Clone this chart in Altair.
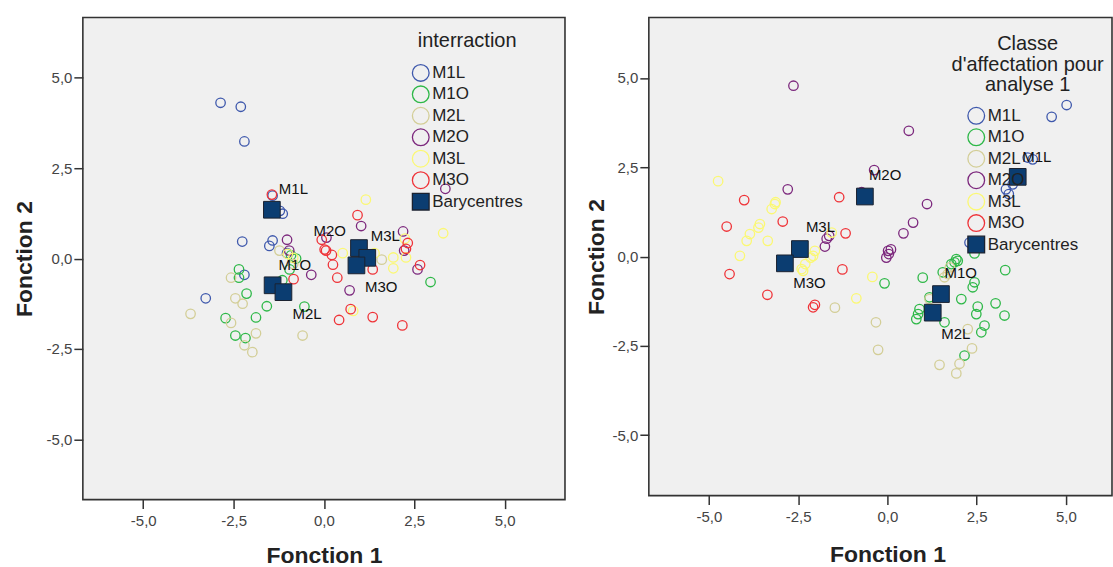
import altair as alt
import pandas as pd

CATS = ["M1L", "M1O", "M2L", "M2O", "M3L", "M3O"]
BARY = "Barycentres"
TICKS = [-5, -2.5, 0, 2.5, 5]

# ---- left panel: "interraction" (observed groups) ----
L_M1L = [(-2.86, 4.31), (-2.30, 4.20), (-2.20, 3.24), (-1.42, 1.74), (-1.14, 1.24), (-1.22, 1.32),
         (-2.26, 0.47), (-1.51, 0.35), (-1.42, 0.50), (-2.20, -0.45), (-3.27, -1.10), (-1.02, 0.15)]
L_M1O = [(-2.35, -0.30), (-2.35, -0.53), (-2.14, -0.97), (-2.72, -1.65), (-2.45, -2.13), (-2.17, -2.20),
         (-1.88, -1.63), (-1.58, -1.32), (-0.54, -1.33), (2.95, -0.65), (-0.91, 0.09), (-0.77, 0.00),
         (-1.15, -0.60), (-0.95, -0.30)]
L_M2L = [(-3.69, -1.53), (-2.57, -1.78), (-2.20, -2.40), (-1.98, -2.59), (-1.88, -2.07), (-2.45, -1.10),
         (-2.25, -1.25), (-2.57, -0.53), (-0.59, -2.13), (-1.23, 0.22), (1.60, -0.03), (-0.85, -0.15)]
L_M2O = [(-1.02, 0.52), (-0.96, 0.22), (-0.35, -0.45), (0.71, -0.88), (0.07, 0.58), (1.03, 0.90),
         (2.19, 0.75), (2.22, 0.22), (2.59, -0.30), (3.36, 1.93)]
L_M3L = [(1.16, 1.63), (3.30, 0.70), (0.52, 0.15), (0.81, -1.45), (1.92, -0.27), (1.92, 0.03),
         (2.27, 0.03), (2.24, 0.55), (-1.00, 0.13), (1.40, 0.15), (-0.85, 0.02)]
L_M3O = [(-1.44, 1.77), (-0.84, -0.57), (0.37, -0.53), (0.25, -0.17), (0.22, 0.10), (0.02, 0.25),
         (-0.06, 0.52), (0.06, 0.22), (0.93, 1.20), (0.74, -1.40), (0.42, -1.70), (1.35, -1.62),
         (2.17, -1.85), (2.32, 0.43), (2.27, 0.27), (2.66, -0.18), (1.35, -0.30)]
L_BARY_X = [-1.44, -1.42, -1.12, 0.97, 1.20, 0.90]
L_BARY_Y = [1.35, -0.74, -0.93, 0.29, 0.02, -0.19]

# ---- right panel: "Classe d'affectation pour analyse 1" (predicted groups) ----
R_M1L = [(5.02, 4.24), (4.60, 3.91), (4.07, 2.72), (3.93, 2.77), (3.51, 2.02), (3.32, 1.88),
         (3.40, 1.75), (2.30, 0.39)]
R_M1O = [(-0.08, -0.75), (0.99, -0.59), (1.93, -0.07), (1.88, -0.16), (1.97, -0.12), (1.79, -0.21),
         (2.44, 0.09), (3.30, -0.38), (1.55, -0.44), (2.44, -0.72), (2.39, -0.86), (2.07, -1.19),
         (2.53, -1.40), (2.49, -1.61), (3.03, -1.31), (3.28, -1.65), (0.86, -1.61), (0.81, -1.75),
         (1.60, -1.84), (2.72, -1.93), (2.63, -2.12), (2.16, -2.77), (1.18, -1.14), (0.90, -1.47)]
R_M2L = [(-1.47, -1.43), (-0.32, -1.84), (-0.26, -2.61), (1.60, -0.58), (1.69, -0.49), (1.18, -1.19),
         (2.25, -2.03), (2.37, -2.57), (2.02, -3.00), (1.93, -3.27), (1.46, -3.03), (1.75, -0.30)]
R_M2O = [(-2.63, 4.78), (0.60, 3.52), (-2.79, 1.88), (1.11, 1.47), (0.72, 0.95), (0.45, 0.65),
         (0.02, 0.16), (-0.03, -0.03), (0.04, 0.07), (0.10, 0.20), (-1.70, 0.50), (-1.75, 0.28),
         (-1.63, 0.58), (-0.37, 2.42), (-0.72, 1.80)]
R_M3L = [(-4.74, 2.11), (-3.15, 1.47), (-3.24, 1.33), (-3.13, 1.52), (-3.57, 0.91), (-3.61, 0.81),
         (-3.85, 0.63), (-3.94, 0.44), (-3.35, 0.44), (-4.13, 0.02), (-1.56, 0.67), (-2.03, 0.16),
         (-2.15, -0.03), (-2.30, -0.21), (-2.40, -0.35), (-2.08, 0.02), (-2.36, -0.40), (-0.42, -0.57),
         (-0.87, -1.17)]
R_M3O = [(-4.01, 1.58), (-2.93, 0.98), (-1.35, 1.66), (-4.50, 0.84), (-4.42, -0.49), (-1.17, 0.65),
         (-1.26, -0.36), (-3.36, -1.07), (-2.08, -1.42), (-2.03, -1.35)]
R_BARY_X = [3.65, 1.50, 1.27, -0.63, -2.45, -2.87]
R_BARY_Y = [2.23, -1.05, -1.57, 1.68, 0.21, -0.19]

# ---- styles ----
FONT = "Liberation Sans"
COLORS = ["#3e58ac", "#2eb848", "#d3ce97", "#7c287d", "#fbf873", "#ef3338"]
B_FILL = "#0b3d71"
B_STROKE = "#1b2230"
LEXPR = "replace(replace(format(datum.value, '.1f'), '.', ','), '\u2212', '-')"
DOM = CATS + [BARY]

# label offsets (dx, dy, align) for barycentre labels
L_LAB = {"M1L": (7, -21, "left"), "M1O": (6, -20, "left"), "M2L": (9, 21.5, "left"),
         "M2O": (-13, -17.5, "right"), "M3L": (3.5, -21.5, "left"), "M3O": (8.5, 21.5, "left")}
R_LAB = {"M1L": (4.5, -20, "left"), "M1O": (3.5, -21, "left"), "M2L": (8.5, 21.3, "left"),
         "M2O": (4, -21.4, "left"), "M3L": (6, -21.6, "left"), "M3O": (8.3, 20, "left")}


def build_df(groups, bx, by):
    rows = []
    for g, pts in zip(CATS, groups):
        for x, y in pts:
            rows.append({"g": g, "x": x, "y": y, "lab": "", "b": 0})
    for g, x, y in zip(CATS, bx, by):
        rows.append({"g": BARY, "x": x, "y": y, "lab": g, "b": 1})
    return pd.DataFrame(rows)


def panel(df, title, xdom, ydom, width, height, legend_kw, labs, ytitle_x, xtitle_y, xtitle_x=None):
    xaxis_kw = dict(title="Fonction 1", values=TICKS, labelExpr=LEXPR, titleY=xtitle_y,
                    titleBaseline="alphabetic")
    if xtitle_x is not None:
        xaxis_kw["titleX"] = xtitle_x
    xenc = alt.X("x:Q", scale=alt.Scale(domain=xdom, nice=False, zero=False),
                 axis=alt.Axis(**xaxis_kw))
    yenc = alt.Y("y:Q", scale=alt.Scale(domain=ydom, nice=False, zero=False),
                 axis=alt.Axis(title="Fonction 2", values=TICKS, labelExpr=LEXPR, titleX=ytitle_x,
                               titleBaseline="alphabetic", titleAngle=270))
    leg = alt.Legend(title=title, orient="none", **legend_kw)
    stroke = alt.Stroke("g:N", scale=alt.Scale(domain=DOM, range=COLORS + [B_STROKE]), legend=leg)
    fill = alt.Fill("g:N", scale=alt.Scale(domain=DOM, range=["transparent"] * 6 + [B_FILL]), legend=leg)
    shape = alt.Shape("g:N", scale=alt.Scale(domain=DOM, range=["circle"] * 6 + ["square"]), legend=leg)
    base = alt.Chart(df)
    circles = base.transform_filter(alt.datum.b == 0).mark_point(
        opacity=1, size=90, strokeWidth=1.3
    ).encode(x=xenc, y=yenc, stroke=stroke, fill=fill, shape=shape)
    squares = base.transform_filter(alt.datum.b == 1).mark_point(
        opacity=1, size=280, strokeWidth=1
    ).encode(x="x:Q", y="y:Q", stroke=stroke, fill=fill, shape=shape)
    layers = [circles, squares]
    for g, (dx, dy, al) in labs.items():
        layers.append(
            base.transform_filter(alt.datum.lab == g)
            .mark_text(dx=dx, dy=dy, align=al, baseline="middle", font=FONT, fontSize=15,
                       color="#111111")
            .encode(x="x:Q", y="y:Q", text="lab:N")
        )
    return alt.layer(*layers).properties(width=width, height=height)


left = panel(build_df([L_M1L, L_M1O, L_M2L, L_M2O, L_M3L, L_M3O], L_BARY_X, L_BARY_Y),
             "interraction", [-6.67, 6.67], [-6.67, 6.67], 483, 483,
             dict(legendX=329, legendY=14, titlePadding=12),
             L_LAB, ytitle_x=-51, xtitle_y=63)

right = panel(build_df([R_M1L, R_M1O, R_M2L, R_M2O, R_M3L, R_M3O], R_BARY_X, R_BARY_Y),
              ["Classe", "d'affectation pour", "analyse 1"], [-6.68, 6.29], [-6.69, 6.69], 464, 479,
              dict(legendX=303.5, legendY=17, titlePadding=11, symbolOffset=-11, titleLineHeight=20.5),
              R_LAB, ytitle_x=-45, xtitle_y=66, xtitle_x=239)

chart = (
    alt.hconcat(left, right, spacing=84, bounds="flush")
    .resolve_scale(x="independent", y="independent", stroke="independent", fill="independent",
                   shape="independent")
    .resolve_legend(stroke="independent", fill="independent", shape="independent")
    .resolve_axis(x="independent", y="independent")
    .properties(padding={"left": 13, "top": 16, "right": 0, "bottom": 0}, background="white")
    .configure_view(fill="#f0f0f0", stroke="#333333", strokeWidth=1.6)
    .configure_axis(grid=False, domain=False, tickSize=9, tickWidth=1.5, tickColor="#333333",
                    labelFont=FONT, labelFontSize=15, labelColor="#444444", labelPadding=2,
                    titleFont=FONT, titleFontSize=23, titleFontWeight="bold", titleColor="#222222")
    .configure_axisX(labelPadding=5)
    .configure_legend(labelFont=FONT, labelFontSize=17, labelColor="#222222", titleFont=FONT,
                      titleFontSize=20, titleFontWeight="normal", titleColor="#222222",
                      symbolSize=280, symbolStrokeWidth=1.3, rowPadding=-1.5, labelOffset=2,
                      titleAnchor="middle", titleAlign="center", titleLimit=400,
                      labelLimit=300)
)

chart.save("out.html", embed_options={"renderer": "svg", "actions": False})
